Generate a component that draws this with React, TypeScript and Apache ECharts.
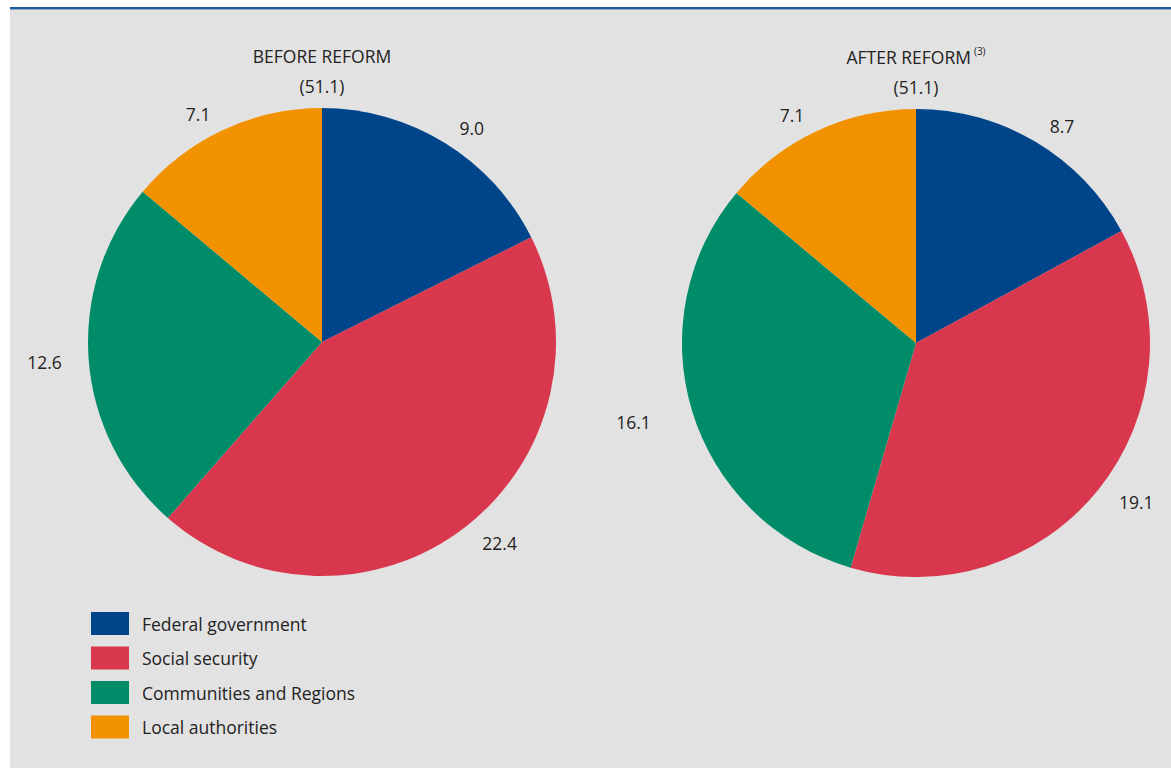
import React, { useEffect, useRef } from "react";
import * as echarts from "echarts";

const categories = ["Federal government", "Social security", "Communities and Regions", "Local authorities"];
const beforeValues = [9.0, 22.4, 12.6, 7.1];
const afterValues = [8.7, 19.1, 16.1, 7.1];
const beforeTotal = "(51.1)";
const afterTotal = "(51.1)";
const colors = ["#00458a", "#d9374d", "#008c69", "#f39200"];

const beforeLabelLen = [18, 20, 22, 18];
const afterLabelLen = [18, 20, 38, 18];

export default function App() {
  const ref = useRef<HTMLDivElement>(null);
  useEffect(() => {
    document.body.style.margin = "0";
    const chart = echarts.init(ref.current!, null, { renderer: "svg" });
    const font = "'Open Sans', 'Noto Sans', sans-serif";
    const fs = 17.5;
    const mk = (vals: number[], lens: number[]) =>
      vals.map((v, i) => ({
        name: categories[i],
        value: v,
        labelLine: { show: false, length: lens[i], length2: 0 },
      }));
    const pieBase = {
      type: "pie",
      radius: 234,
      startAngle: 90,
      clockwise: true,
      avoidLabelOverlap: false,
      silent: true,
      itemStyle: { borderWidth: 0 },
      label: {
        show: true,
        position: "outside",
        formatter: (p: any) => p.value.toFixed(1),
        color: "#222",
        fontSize: fs,
        fontFamily: font,
      },
      labelLine: { show: false },
      emphasis: { disabled: true },
    };
    chart.setOption({
      animation: false,
      backgroundColor: "#ffffff",
      color: colors,
      graphic: [
        { type: "rect", shape: { x: 10, y: 10, width: 1161, height: 758 }, style: { fill: "#e2e2e2" }, z: -10 },
        { type: "rect", shape: { x: 10, y: 7, width: 1161, height: 2.5 }, style: { fill: "#1f5a9e" }, z: -10 },
      ],
      title: [
        {
          text: "BEFORE REFORM\n" + beforeTotal,
          left: 322,
          top: 41,
          padding: 0,
          textAlign: "center",
          textStyle: { fontSize: fs, fontWeight: "normal", color: "#222", fontFamily: font, lineHeight: 30 },
        },
        {
          text: "AFTER REFORM{sup|(3)}\n" + afterTotal,
          left: 916,
          top: 42,
          padding: 0,
          textAlign: "center",
          textStyle: {
            fontSize: fs,
            fontWeight: "normal",
            color: "#222",
            fontFamily: font,
            lineHeight: 30,
            rich: { sup: { fontSize: 10, lineHeight: 30, padding: [0, 0, 12, 3], color: "#222", fontFamily: font } },
          },
        },
      ],
      legend: {
        orient: "vertical",
        left: 91,
        top: 612,
        padding: 0,
        itemWidth: 38,
        itemHeight: 23,
        itemGap: 11.5,
        icon: "rect",
        selectedMode: false,
        data: categories,
        textStyle: { fontSize: fs, color: "#222", fontFamily: font, padding: [0, 0, 0, 8] },
      },
      series: [
        { ...pieBase, name: "Before", center: [322, 342], data: mk(beforeValues, beforeLabelLen) },
        { ...pieBase, name: "After", center: [916, 343], data: mk(afterValues, afterLabelLen) },
      ],
    });
    return () => chart.dispose();
  }, []);
  return <div ref={ref} style={{ width: 1171, height: 769 }} />;
}
